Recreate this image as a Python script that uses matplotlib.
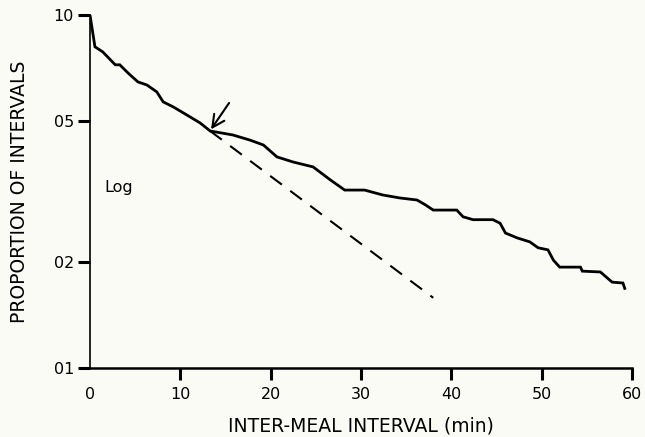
import matplotlib.pyplot as plt
from matplotlib.ticker import FixedLocator, NullLocator

# survivorship of inter-meal intervals (log proportion vs minutes)
t_min = [0, 0.55, 1.4, 2.8, 3.3, 4.2, 5.3, 6.3, 7.4, 8.1, 9.2, 10.7, 12.2, 13.3,
         15.8, 17.7, 19.2, 20.7, 22.5, 24.7, 26.6, 28.2, 30.4, 32.4, 34.3, 36.2,
         37.1, 38.0, 40.6, 41.3, 42.4, 44.6, 45.4, 46.0, 47.3, 48.7, 49.6, 50.7,
         51.3, 52.0, 54.3, 54.5, 56.5, 57.8, 59.0, 59.2]
proportion = [1.0, 0.812, 0.786, 0.722, 0.722, 0.685, 0.646, 0.633, 0.605, 0.567,
              0.549, 0.521, 0.494, 0.469, 0.457, 0.442, 0.428, 0.396, 0.383, 0.371,
              0.341, 0.319, 0.319, 0.309, 0.303, 0.299, 0.290, 0.280, 0.280, 0.268,
              0.263, 0.263, 0.257, 0.241, 0.2335, 0.2275, 0.219, 0.216, 0.202,
              0.193, 0.193, 0.188, 0.187, 0.175, 0.174, 0.168]

# extrapolated initial exponential slope
fit_t = [13.3, 38.0]
fit_p = [0.469, 0.158]

# arrow marking the break point
arrow_tail = (15.4, 0.563)
arrow_head = (13.4, 0.474)

yticks = [0.1, 0.2, 0.5, 1.0]
ytick_labels = ['01', '02', '05', '10']
xticks = [0, 10, 20, 30, 40, 50, 60]

bg = '#fbfbf6'
fig = plt.figure(figsize=(6.45, 4.37), dpi=100, facecolor=bg)
ax = fig.add_axes([0.1395, 0.158, 0.8403, 0.808], facecolor=bg)

ax.plot(t_min, proportion, color='black', lw=2.0, solid_joinstyle='miter')
ax.plot(fit_t, fit_p, color='black', lw=1.5, dashes=(7, 5))
ax.annotate('', xy=arrow_head, xytext=arrow_tail,
            arrowprops=dict(arrowstyle='->', color='black', lw=1.5,
                            mutation_scale=22, shrinkA=0, shrinkB=0))

ax.set_yscale('log')
ax.set_xlim(0, 60)
ax.set_ylim(0.1, 1.0)
ax.yaxis.set_major_locator(FixedLocator(yticks))
ax.yaxis.set_minor_locator(NullLocator())
ax.set_yticklabels(ytick_labels)
ax.set_xticks(xticks)

ax.spines['top'].set_visible(False)
ax.spines['right'].set_visible(False)
ax.spines['left'].set_linewidth(1.2)
ax.spines['bottom'].set_linewidth(1.8)

ax.tick_params(axis='y', direction='out', length=8.5, width=2.2, pad=3, labelsize=11.5)
ax.tick_params(axis='x', direction='out', length=8.5, width=2.2, pad=5, labelsize=11.5)
ax.xaxis.get_major_ticks()[0].tick1line.set_visible(False)

ax.set_xlabel('INTER-MEAL INTERVAL (min)', fontsize=13.5, labelpad=11)
ax.set_ylabel('PROPORTION OF INTERVALS', fontsize=13.5, labelpad=18)
ax.text(1.6, 0.325, 'Log', fontsize=11.5, va='center', ha='left')

fig.savefig('out.png', dpi=100, facecolor=bg)
